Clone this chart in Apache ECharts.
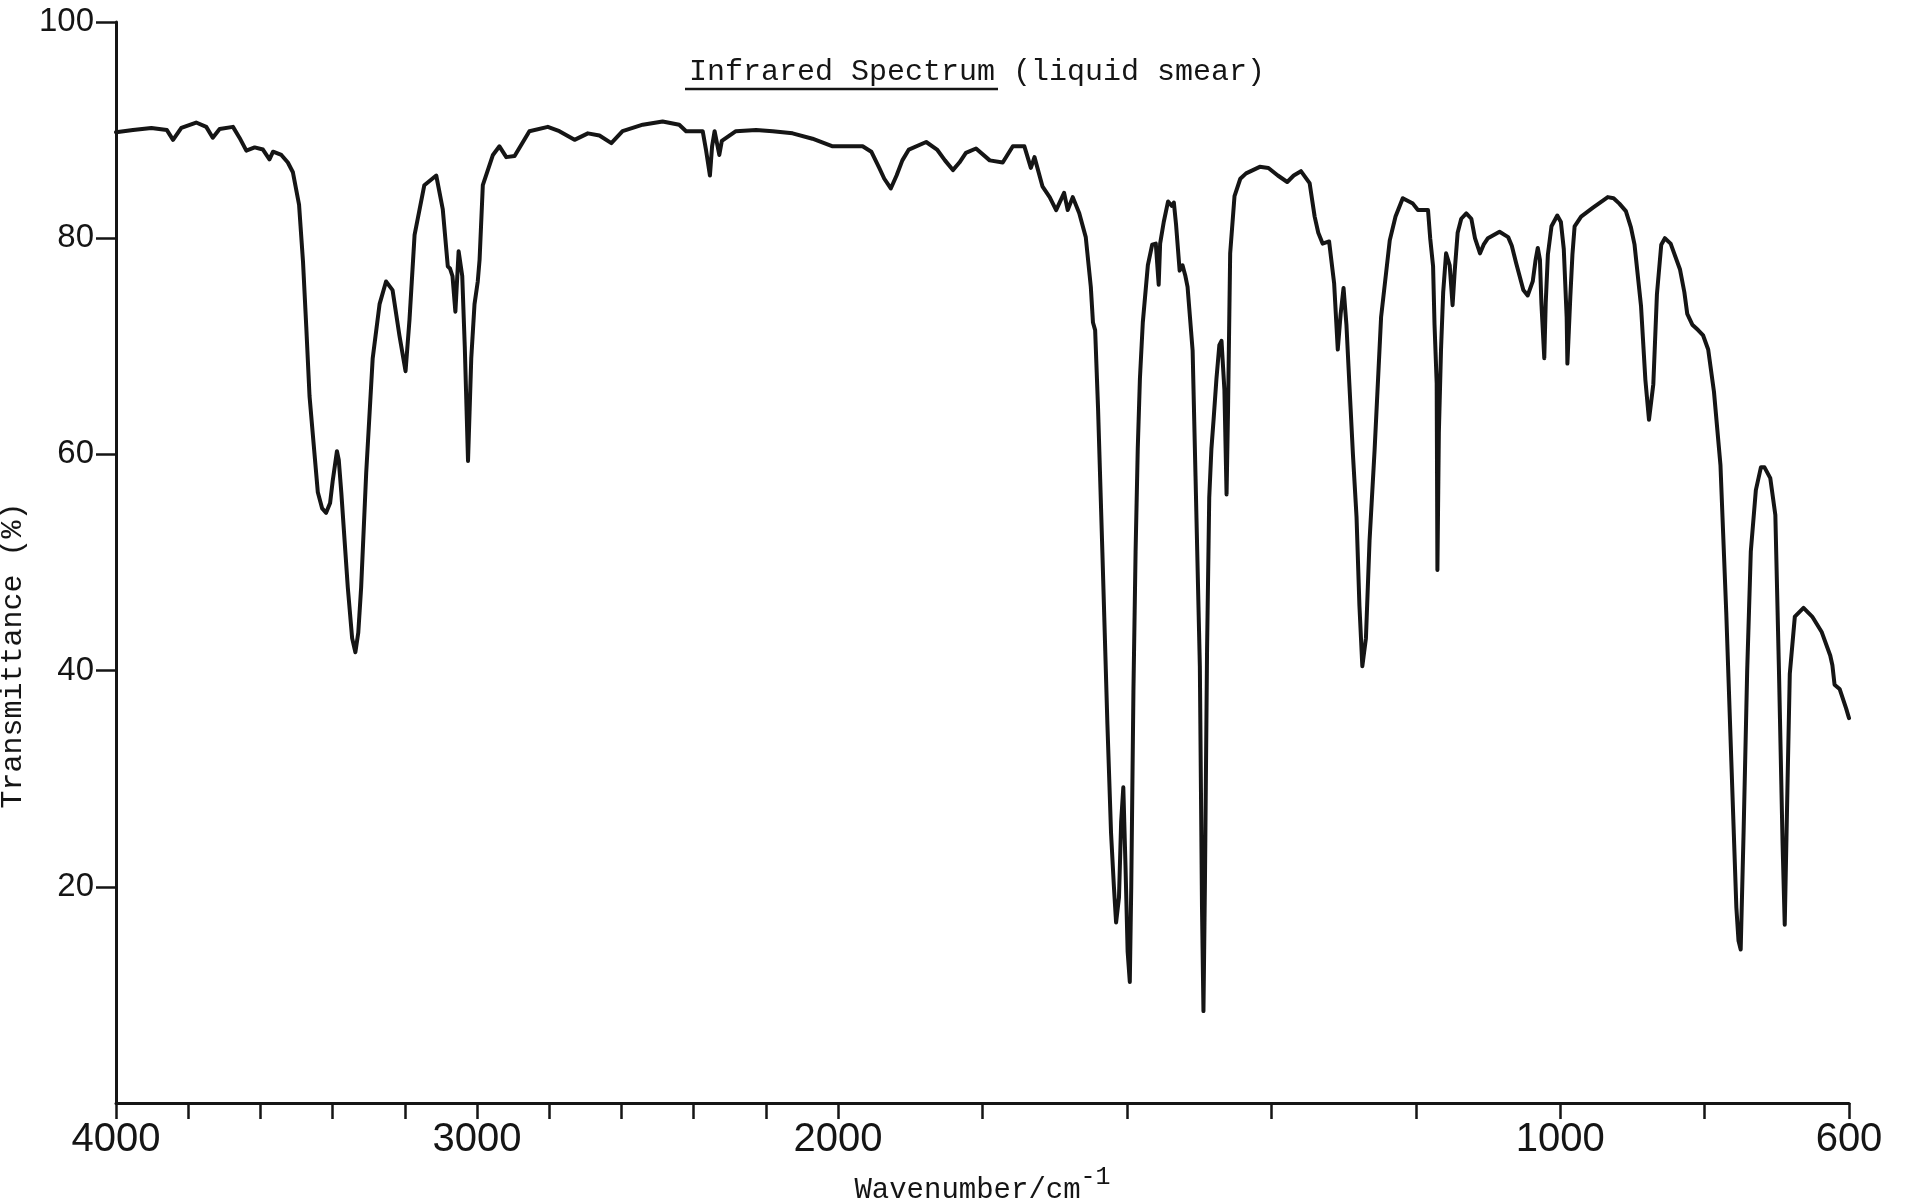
<!DOCTYPE html>
<html><head><meta charset="utf-8">
<script src="https://cdn.jsdelivr.net/npm/echarts@6/dist/echarts.min.js"></script>
<style>html,body{margin:0;padding:0;background:#fff}#c{width:1920px;height:1203px}</style>
</head><body><div id="c"></div>
<script>
// Wavenumber (cm^-1) of each sampled point of the trace
const wavenumbers = [
  4000,3953,3902,3859,3842,3819,3778,3750,3732,3713,
  3676,3658,3639,3616,3593,3575,3565,3542,3524,3510,
  3493,3482,3473,3464,3455,3441,3429,3418,3407,3400,
  3388,3383,3376,3358,3346,3337,3329,3321,3307,3289,
  3270,3252,3234,3215,3198,3187,3173,3146,3113,3095,
  3081,3075,3068,3060,3051,3041,3034,3025,3016,3007,
  2998,2993,2984,2956,2938,2919,2896,2855,2804,2772,
  2730,2693,2661,2628,2597,2541,2486,2440,2421,2375,
  2366,2355,2349,2342,2329,2322,2283,2227,2181,2126,
  2071,2015,1966,1954,1943,1936,1927,1919,1911,1902,
  1878,1863,1852,1841,1832,1823,1809,1790,1772,1758,
  1742,1733,1728,1717,1707,1698,1687,1682,1675,1666,
  1657,1650,1647,1644,1640,1634,1627,1622,1618,1615,
  1611,1608,1605,1602,1599,1596,1594,1591,1588,1585,
  1582,1578,1571,1565,1560,1556,1554,1549,1543,1538,
  1535,1532,1527,1523,1519,1516,1509,1505,1499,1496,
  1494,1492,1489,1486,1483,1480,1476,1472,1469,1465,
  1462,1460,1457,1451,1443,1435,1416,1404,1391,1378,
  1369,1359,1347,1340,1335,1329,1320,1313,1308,1304,
  1300,1296,1292,1287,1282,1278,1274,1269,1264,1257,
  1248,1236,1228,1218,1204,1197,1183,1180,1176,1174,
  1171,1170,1168,1165,1162,1158,1153,1149,1146,1142,
  1137,1130,1123,1118,1111,1106,1100,1084,1072,1067,
  1061,1051,1045,1038,1034,1031,1028,1026,1022,1020,
  1017,1012,1004,999,995,991,990,986,983,980,
  971,955,934,926,918,909,902,897,888,882,
  877,871,866,860,855,847,834,828,824,817,
  809,802,795,787,778,770,763,756,753,750,
  746,741,736,729,722,717,709,702,697,692,
  689,685,682,675,663,651,638,626,623,620,
  613,604,600
];
// Transmittance (%) at each wavenumber above
const transmittance = [
  89.8,90.0,90.2,90.0,89.1,90.2,90.7,90.3,89.3,90.1,
  90.3,89.3,88.1,88.4,88.2,87.3,88.0,87.7,87.0,86.1,
  83.1,77.8,71.8,65.4,61.9,56.5,55.0,54.6,55.5,57.5,
  60.3,59.5,56.5,47.7,43.0,41.7,43.5,47.7,58.3,68.9,
  73.9,76.0,75.2,71.0,67.7,72.5,80.3,84.9,85.8,82.7,
  77.4,77.2,76.5,73.2,78.8,76.5,70.0,59.4,68.9,73.9,
  76.0,78.0,84.9,87.7,88.5,87.5,87.6,89.9,90.3,89.9,
  89.1,89.7,89.5,88.8,89.9,90.5,90.8,90.5,89.9,89.9,
  88.2,85.8,88.5,89.9,87.7,89.0,89.9,90.0,89.9,89.7,
  89.2,88.5,88.5,88.0,86.5,85.5,84.6,85.8,87.2,88.2,
  88.9,88.2,87.2,86.3,87.0,87.9,88.3,87.2,87.0,88.5,
  88.5,86.5,87.5,84.8,83.8,82.6,84.2,82.6,83.8,82.3,
  80.1,75.5,72.2,71.5,64.3,51.0,35.0,25.0,20.0,16.7,
  19.0,26.0,29.2,22.0,14.0,11.2,20.0,38.0,51.0,60.5,
  67.0,72.2,77.5,79.4,79.5,75.7,79.5,81.5,83.4,83.0,
  83.3,81.3,77.0,77.5,76.5,75.5,69.6,58.0,40.4,18.0,
  8.5,20.0,42.0,56.0,60.5,63.2,67.0,70.1,70.5,66.0,
  56.3,64.0,78.6,83.9,85.5,86.0,86.6,86.5,85.8,85.2,
  85.8,86.2,85.1,82.0,80.5,79.5,79.7,75.8,69.7,73.0,
  75.4,72.0,66.6,60.0,54.2,46.0,40.4,43.0,52.0,60.4,
  72.7,79.8,82.0,83.7,83.2,82.6,82.6,80.0,77.4,72.0,
  66.6,49.3,62.0,69.7,75.0,78.6,77.5,73.8,77.0,80.5,
  81.8,82.3,81.8,80.0,78.6,79.4,80.0,80.6,80.1,79.3,
  77.7,75.2,74.7,76.0,78.0,79.1,78.0,74.0,68.9,74.0,
  78.5,81.1,82.1,81.5,79.0,72.7,68.4,74.5,78.5,81.1,
  82.0,82.8,83.8,83.7,83.2,82.5,81.0,79.4,73.7,66.9,
  63.2,66.5,74.8,79.4,80.0,79.5,77.1,75.0,73.0,72.0,
  71.5,71.0,69.7,65.8,59.0,45.4,31.7,18.1,15.0,14.2,
  25.0,40.0,51.0,56.7,58.8,58.8,57.8,54.4,40.0,24.0,
  16.5,30.0,39.7,45.0,45.8,45.0,43.6,41.4,40.5,38.7,
  38.3,36.5,35.6
];
const xTickWavenumbers = [4000,3800,3600,3400,3200,3000,2800,2600,2400,2200,2000,1800,1600,1400,1200,1000,800,600];
const xLabelWavenumbers = [4000,3000,2000,1000,600];
const yLabelValues = [20,40,60,80,100];

// Chart paper scale changes at 2000 cm^-1 (twice as expanded below 2000)
function toAxis(w){ return w >= 2000 ? (4000 - w) / 2 : 1000 + (2000 - w); }
function fromAxis(u){ return Math.round(u <= 1000 ? 4000 - 2 * u : 2000 - (u - 1000)); }

const seriesData = wavenumbers.map((w, i) => [toAxis(w), transmittance[i]]);

const chart = echarts.init(document.getElementById('c'), null, {renderer: 'canvas'});
const ink = '#151515';
chart.setOption({
  backgroundColor: '#ffffff',
  animation: false,
  title: {
    text: 'Infrared Spectrum (liquid smear)',
    left: 684, top: 52,
    textStyle: {fontFamily: 'Liberation Mono', fontSize: 30, fontWeight: 'normal', color: ink}
  },
  graphic: [{
    type: 'line', z: 10,
    shape: {x1: 685, y1: 89, x2: 998, y2: 89},
    style: {stroke: ink, lineWidth: 2.5}
  }],
  grid: {left: 116, right: 71, top: 22, bottom: 100, containLabel: false, outerBoundsMode: 'none'},
  xAxis: {
    type: 'value', min: 0, max: 2400,
    name: 'Wavenumber/cm{s|-1}',
    nameLocation: 'middle', nameGap: 60,
    nameTextStyle: {
      fontFamily: 'Liberation Mono', fontSize: 29, color: ink,
      rich: {s: {fontFamily: 'Liberation Mono', fontSize: 25, verticalAlign: 'top', padding: [0,0,26,0], color: ink}}
    },
    splitLine: {show: false},
    axisLine: {show: true, lineStyle: {color: ink, width: 3}},
    axisTick: {show: true, inside: false, length: 16, lineStyle: {color: ink, width: 2.5},
      customValues: xTickWavenumbers.map(toAxis)},
    axisLabel: {show: true, margin: 17, fontFamily: 'Liberation Sans', fontSize: 40, color: ink,
      customValues: xLabelWavenumbers.map(toAxis),
      formatter: v => String(fromAxis(v))}
  },
  yAxis: {
    type: 'value', min: 0, max: 100, interval: 20,
    name: 'Transmittance (%)',
    nameLocation: 'middle', nameGap: 79, nameRotate: 90,
    nameTextStyle: {fontFamily: 'Liberation Mono', fontSize: 30, color: ink, padding: [0, 186, 0, 0]},
    splitLine: {show: false},
    axisLine: {show: true, lineStyle: {color: ink, width: 3}},
    axisTick: {show: true, inside: false, length: 20, lineStyle: {color: ink, width: 2.5},
      customValues: yLabelValues},
    axisLabel: {show: true, margin: 22, fontFamily: 'Liberation Sans', fontSize: 33, color: ink,
      customValues: yLabelValues}
  },
  series: [{
    type: 'line', data: seriesData, showSymbol: false, smooth: false,
    lineStyle: {color: ink, width: 4, join: 'round', cap: 'round'},
    clip: true
  }]
});
</script></body></html>
